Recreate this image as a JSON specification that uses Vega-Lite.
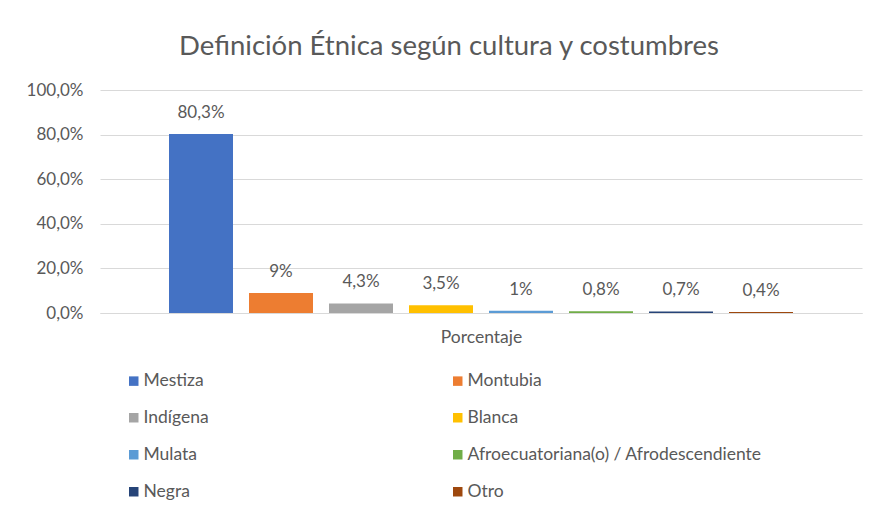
{
  "$schema": "https://vega.github.io/schema/vega-lite/v6.json",
  "autosize": "none",
  "width": 762,
  "height": 223,
  "padding": {"left": 100, "top": 90, "right": 15, "bottom": 197},
  "background": "white",
  "config": {"view": {"stroke": null}},
  "title": {
    "text": "Definición Étnica según cultura y costumbres",
    "font": "Lato",
    "fontSize": 27.5,
    "fontWeight": "normal",
    "color": "#595959",
    "anchor": "middle",
    "offset": 21,
    "dx": -32
  },
  "data": {
    "values": [
      {"etnia": "Mestiza", "pct": 80.3, "label": "80,3%"},
      {"etnia": "Montubia", "pct": 9, "label": "9%"},
      {"etnia": "Indígena", "pct": 4.3, "label": "4,3%"},
      {"etnia": "Blanca", "pct": 3.5, "label": "3,5%"},
      {"etnia": "Mulata", "pct": 1, "label": "1%"},
      {"etnia": "Afroecuatoriana(o) / Afrodescendiente", "pct": 0.8, "label": "0,8%"},
      {"etnia": "Negra", "pct": 0.7, "label": "0,7%"},
      {"etnia": "Otro", "pct": 0.4, "label": "0,4%"}
    ]
  },
  "encoding": {
    "x": {
      "field": "etnia",
      "type": "nominal",
      "sort": null,
      "scale": {"paddingInner": 0.2, "paddingOuter": 0.8625},
      "axis": {
        "title": "Porcentaje",
        "labels": false,
        "ticks": false,
        "domain": true,
        "domainColor": "#D9D9D9",
        "titleFont": "Lato",
        "titleFontSize": 17.5,
        "titleFontWeight": "normal",
        "titleColor": "#595959",
        "titlePadding": 15
      }
    },
    "y": {
      "field": "pct",
      "type": "quantitative",
      "scale": {"domain": [0, 100]},
      "axis": {
        "title": null,
        "values": [0, 20, 40, 60, 80, 100],
        "labelExpr": "replace(format(datum.value,'.1f'),'.',',') + '%'",
        "domain": false,
        "ticks": false,
        "labelPadding": 17,
        "labelFont": "Lato",
        "labelFontSize": 17,
        "labelColor": "#595959",
        "gridColor": "#D9D9D9",
        "gridWidth": 1
      }
    }
  },
  "layer": [
    {
      "mark": {"type": "bar"},
      "encoding": {
        "color": {
          "field": "etnia",
          "type": "nominal",
          "scale": {
            "domain": ["Mestiza", "Montubia", "Indígena", "Blanca", "Mulata", "Afroecuatoriana(o) / Afrodescendiente", "Negra", "Otro"],
            "range": ["#4472C4", "#ED7D31", "#A5A5A5", "#FFC000", "#5B9BD5", "#70AD47", "#264478", "#9E480E"]
          },
          "legend": {
            "title": null,
            "orient": "none",
            "legendX": 25,
            "legendY": 282,
            "columns": 2,
            "direction": "horizontal",
            "columnPadding": 240,
            "rowPadding": 18,
            "symbolType": "square",
            "symbolSize": 90,
            "symbolStrokeWidth": 0,
            "symbolOffset": 0,
            "labelOffset": 1,
            "labelFont": "Lato",
            "labelFontSize": 17.5,
            "labelColor": "#595959",
            "labelLimit": 400
          }
        }
      }
    },
    {
      "mark": {"type": "text", "baseline": "middle", "dy": -21, "font": "Lato", "fontSize": 17, "color": "#595959"},
      "encoding": {"text": {"field": "label"}}
    }
  ]
}
